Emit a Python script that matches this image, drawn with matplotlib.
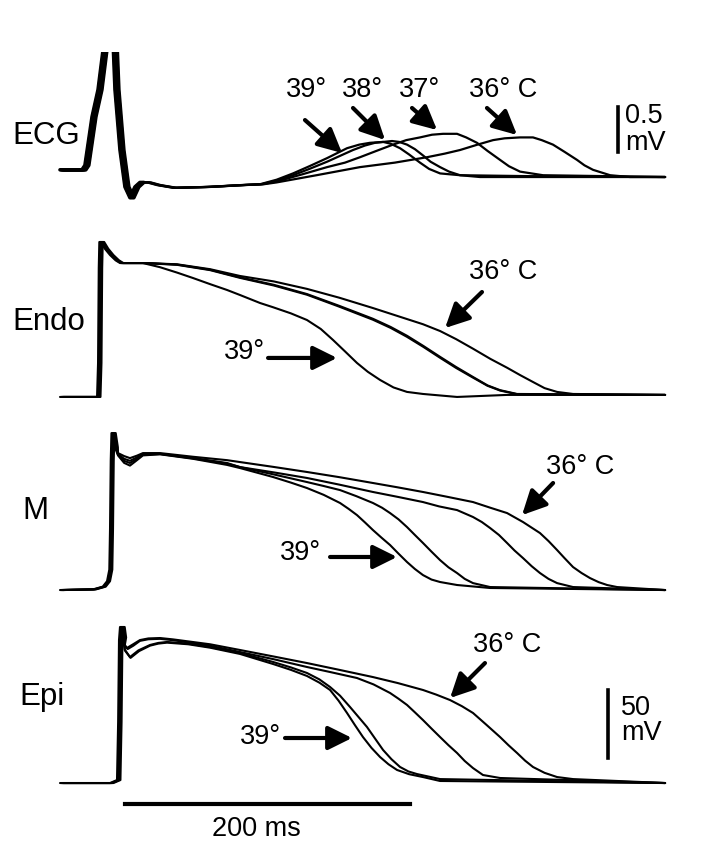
import matplotlib
matplotlib.use("Agg")
import matplotlib.pyplot as plt

plt.rcParams['font.family'] = ['Liberation Sans', 'DejaVu Sans']

# ---------------------------------------------------------------------------
# Traces: (time in ms, value). ECG in mV, APs in mV.
# ---------------------------------------------------------------------------
ecg_qrs = [(0, 0.08), (15.4, 0.08), (17.5, 0.13), (20, 0.4), (22.5, 0.67),
           (26.7, 0.97), (30.2, 1.41), (32.5, 1.95), (35.5, 1.95),
           (37.2, 1.52), (38.6, 0.97), (42.1, 0.3), (45.6, -0.11),
           (49.1, -0.23), (52.6, -0.11), (56.1, -0.06), (61.1, -0.06),
           (68.1, -0.09), (79.3, -0.12), (103.2, -0.11), (126.3, -0.09),
           (140.4, -0.08)]
ecg_39 = [(152, -0.03), (163.5, 0.04), (175, 0.12), (187.4, 0.21),
          (201.4, 0.32), (210, 0.36), (217.5, 0.38), (226.7, 0.39),
          (232, 0.37), (238.6, 0.32), (245, 0.25), (252.6, 0.16),
          (259, 0.09), (266.7, 0.04), (280.7, 0.02), (327.7, 0.01),
          (424.6, 0.0)]
ecg_38 = [(152, -0.04), (163.5, 0.02), (175, 0.09), (187.4, 0.17),
          (205.6, 0.3), (214, 0.35), (221, 0.38), (233, 0.4), (238, 0.39),
          (243.5, 0.36), (249, 0.31), (254.7, 0.24), (260, 0.17),
          (266.7, 0.11), (273, 0.06), (280.7, 0.02), (294.7, 0.0),
          (424.6, 0.0)]
ecg_37 = [(152, -0.05), (170, 0.03), (187.4, 0.11), (200, 0.16),
          (210.5, 0.22), (222, 0.29), (233.7, 0.36), (243, 0.41),
          (252.6, 0.44), (261, 0.47), (268.8, 0.48), (278.6, 0.48),
          (285, 0.44), (292.6, 0.38), (300, 0.29), (308.8, 0.19),
          (315, 0.12), (322.8, 0.06), (338.9, 0.02), (424.6, 0.0)]
ecg_36 = [(152, -0.06), (180, 0.02), (210.5, 0.11), (235, 0.16),
          (257.5, 0.22), (270, 0.26), (280.7, 0.3), (293, 0.36),
          (303.9, 0.41), (312, 0.43), (322.8, 0.44), (331.9, 0.44),
          (338, 0.41), (345.9, 0.36), (354, 0.28), (362.8, 0.19),
          (368, 0.13), (374, 0.08), (386, 0.02), (400, 0.0), (424.6, 0.0)]

endo_head = [(0, -85), (26.0, -85), (26.7, -60), (27.2, 10), (27.6, 29),
             (28.6, 29), (31.5, 24), (35.1, 19.4), (39, 15.5), (42.1, 13.5),
             (58.2, 13.5)]
endo_36 = [(82.1, 12.6), (105.3, 9.0), (126.3, 4.0), (150, 0.0),
           (173.3, -5.5), (196, -12), (219.6, -19.6), (237, -25.5),
           (254.7, -31.5), (266.7, -36.5), (278, -42.5), (289.8, -49.5),
           (302, -57), (313.7, -63.5), (323, -69), (331.9, -74),
           (340, -78.5), (348.8, -81.3), (360, -82.8), (424.6, -83.5)]
endo_37 = [(82.1, 12.4), (105.3, 8.6), (126.3, 3.0), (150, -2.5),
           (173.3, -9.3), (196, -18.0), (219.6, -27.5), (232, -33.5),
           (243.5, -40.0), (255, -47.5), (266.7, -55.5), (278, -63),
           (289.8, -70.3), (300, -76.5), (308.8, -80.0), (320.7, -82.8),
           (424.6, -83.5)]
endo_38 = [(82.1, 12.2), (105.3, 8.3), (126.3, 2.6), (150, -3.0),
           (173.3, -9.8), (196, -18.6), (219.6, -28.2), (232, -34.2),
           (243.5, -40.8), (255, -48.2), (266.7, -56.2), (278, -63.7),
           (289.8, -70.8), (300, -76.8), (308.8, -80.3), (320.7, -83.0),
           (424.6, -83.5)]
endo_39 = [(70, 10.5), (82.1, 6.5), (93.3, 2.5), (105.3, -2.0),
           (117.2, -6.3), (126.3, -10.0), (140.4, -15.9), (149.5, -19.0),
           (162, -23.5), (173.3, -28.4), (183, -35), (191.6, -43.1),
           (200, -51.5), (208.4, -60.0), (216, -66.5), (224.6, -72.5),
           (234, -78.0), (243.5, -81.3), (254.7, -82.8), (278.6, -85.0),
           (313.7, -83.5), (424.6, -83.5)]

m_head = [(0, -85), (23.2, -84.5), (30, -82.5), (33, -78.5), (34.6, -70),
          (35.1, -40), (35.6, 10), (36.1, 30.4), (37.0, 30.4),
          (38.5, 20)]
m_36 = [(40.7, 15.7), (45, 13.5), (49.1, 12.0), (54, 13.8), (58.2, 15.7),
        (70.2, 15.7), (93.3, 13.0), (117.2, 10.5), (126.3, 9.1),
        (150, 5.5), (173.3, 1.8), (196, -2.0), (219.6, -6.3), (237, -9.5),
        (254.7, -12.9), (272, -16.5), (289.8, -20.3), (302, -24.5),
        (313.7, -28.4), (324.9, -35.0), (336.8, -43.1), (342.8, -49),
        (348.8, -55.6), (354, -61.5), (360, -68.1), (366, -72.5),
        (371.9, -76.2), (378, -79.2), (383.9, -81.3), (390.9, -82.8),
        (424.6, -85)]
m_37 = [(40.7, 15.0), (45, 11.5), (49.1, 10.0), (54, 12.5), (58.2, 15.0),
        (70.2, 15.2), (93.3, 12.1), (117.2, 8.4), (126.3, 5.4),
        (150, 1.5), (173.3, -2.6), (196, -7.5), (219.6, -12.9),
        (237, -16.5), (254.7, -20.3), (266, -23.5), (278.6, -26.2),
        (289.8, -31.3), (296, -35), (301.8, -39.4), (308, -44.5),
        (313.7, -50.4), (319, -56), (324.9, -61.5), (331, -67.5),
        (336.8, -72.5), (342.8, -76.8), (348.8, -79.9), (360, -82.8),
        (424.6, -85)]
m_38 = [(40.7, 14.5), (45, 10.0), (49.1, 8.4), (54, 11.5), (58.2, 14.5),
        (70.2, 15.0), (93.3, 11.8), (117.2, 8.0), (126.3, 5.4),
        (150, 0.0), (173.3, -5.6), (185, -8.5), (196.5, -11.5),
        (208, -16), (219.6, -21.0), (226, -24.5), (231.6, -28.4),
        (237.5, -33), (243.5, -38.7), (249, -44.5), (254.7, -50.4),
        (260.7, -56.8), (266.7, -63.0), (272.6, -68.3), (278.6, -72.5),
        (284, -76.8), (289.8, -79.9), (301.8, -82.8), (424.6, -85)]
m_39 = [(40.7, 14.0), (45, 8.5), (49.1, 6.5), (54, 10.5), (58.2, 14.0),
        (70.2, 14.8), (93.3, 11.5), (117.2, 7.0), (126.3, 4.7),
        (149.5, -1.9), (162, -6), (173.3, -10.0), (185, -15),
        (196.5, -21.0), (202.5, -25.3), (208.4, -29.9), (214, -35.3),
        (219.6, -40.9), (225.6, -46.5), (231.6, -51.9), (237.5, -58.2),
        (243.5, -64.4), (249, -69.5), (254.7, -74.0), (260.7, -77.3),
        (266.7, -79.1), (278.6, -81.3), (301.8, -83.5), (424.6, -85)]

epi_head = [(0, -85), (35.1, -85), (40.0, -82.8), (40.8, -40), (41.4, 20.1),
            (42.1, 29.7), (43.0, 29.7), (44.0, 22)]
epi_36 = [(45.5, 16.5), (47, 14.3), (51, 16.8), (56.1, 20.1), (62, 21.3),
          (70.2, 21.6), (79.3, 20.6), (105.3, 17.0), (126.3, 12.8),
          (150, 8.0), (173.3, 3.2), (196, -1.8), (219.6, -7.1),
          (237, -11.5), (254.7, -16.6), (264, -20.0), (273.7, -24.0),
          (282, -28.5), (289.8, -33.5), (299, -42), (308.8, -51.2),
          (314.7, -57.2), (320.7, -62.9), (326.3, -68.5), (331.9, -73.2),
          (340, -77.5), (348.8, -80.6), (360, -82.1), (424.6, -85)]
epi_37 = [(45.5, 15.5), (47.5, 13.5), (51.5, 16.0), (56.1, 19.5), (62, 20.7),
          (70.2, 21.0), (79.3, 20.0), (105.3, 16.0), (126.3, 11.3),
          (150, 6.0), (173.3, 0.3), (190, -3.5), (208.4, -7.8),
          (220, -12.5), (231.6, -18.8), (237.5, -23), (243.5, -27.6),
          (249, -33), (254.7, -38.7), (260.7, -45), (266.7, -51.2),
          (272.6, -57.2), (278.6, -62.9), (284, -68.8), (289.8, -74.0),
          (296.8, -79.1), (308.8, -81.3), (424.6, -85)]
epi_38 = [(45.5, 13.0), (49.1, 7.6), (55, 12.5), (63.2, 16.5), (69, 18.0),
          (75.1, 18.7), (90, 17.5), (105.3, 15.0), (126.3, 10.6),
          (149.5, 4.0), (162, 0.0), (173.3, -4.1), (182, -8.8),
          (189.5, -14.4), (196.5, -20.8), (203.5, -29.1), (209.5, -36.5),
          (215.4, -43.8), (221, -52.2), (226.7, -60.7), (232.6, -67.5),
          (238.6, -73.2), (244.5, -76.5), (250.5, -78.4), (266.7, -82.1),
          (424.6, -85)]
epi_39 = [(45.5, 12.5), (49.5, 7.0), (55.5, 12.0), (63.2, 16.0), (69, 17.5),
          (75.1, 18.2), (90, 17.0), (105.3, 14.5), (126.3, 9.9),
          (149.5, 2.5), (162, -1.8), (173.3, -6.3), (182, -11.2),
          (189.5, -16.6), (195.5, -24.5), (201.4, -33.5), (207, -42.5),
          (212.6, -51.2), (218.6, -59.2), (224.6, -65.9), (230.5, -71.2),
          (236.5, -75.4), (245, -78.5), (254.7, -80.6), (266.7, -83.5),
          (424.6, -85)]

# labels and annotation positions (ms, value)
row_labels = ["ECG", "Endo", "M", "Epi"]
row_label_pos = [(-33.7, 0.46), (-33.7, -29.9), (-26.7, -26.9), (-28.8, -21.8)]

ecg_temp_labels = ["39°", "38°", "37°", "36° C"]
ecg_label_t = [172.6, 211.9, 252.6, 310.9]
ecg_label_v = 0.967
ecg_arrow_tail = [(171.9, 0.633), (205.6, 0.767), (247.0, 0.767), (299.6, 0.767)]
ecg_arrow_tip = [(197.9, 0.267), (228.1, 0.411), (264.6, 0.522), (320.7, 0.467)]

# (label "36° C" pos, arrow tail, arrow tip, label "39°" pos, arrow tail, arrow tip)
endo_notes = [(310.9, 6.9), (296.1, -7.8), (270.2, -34.3),
              (129.1, -51.9), (146.0, -56.3), (194.4, -56.3)]
m_notes = [(364.9, 5.4), (346.0, -6.3), (324.2, -29.9),
           (168.4, -57.8), (189.5, -60.7), (236.5, -60.7)]
epi_notes = [(313.7, 16.5), (298.2, 3.2), (273.7, -22.5),
             (140.4, -51.2), (157.9, -51.9), (204.9, -51.9)]

# scale bars
ecg_bar_t, ecg_bar_v = 391.6, (0.28, 0.78)
ap_bar_t, ap_bar_v = 384.6, (-66.6, -16.6)
time_bar_t, time_bar_v = (45.6, 245.6), -100.4
time_label_pos = (137.5, -118.8)

# ---------------------------------------------------------------------------
W, H = 712, 852
fig = plt.figure(figsize=(W / 100, H / 100), dpi=100)
XLIM = (-42.1, 457.5)
FS = 19.5


def panel(top_px, bot_px, ylim):
    ax = fig.add_axes([0, 1 - bot_px / H, 1, (bot_px - top_px) / H])
    ax.set_xlim(*XLIM)
    ax.set_ylim(*ylim)
    ax.axis("off")
    return ax


def trace(ax, *parts, lw=1.5):
    pts = [p for part in parts for p in part]
    t, v = zip(*pts)
    ax.plot(t, v, color="k", lw=lw, solid_joinstyle="round",
            solid_capstyle="round")


def arrow(ax, tail, tip):
    ax.annotate("", xy=tip, xytext=tail,
                arrowprops=dict(arrowstyle="-|>,head_length=1.45,head_width=0.72",
                                lw=3.0, color="k", shrinkA=0, shrinkB=0,
                                mutation_scale=10),
                annotation_clip=False)


def notes(ax, n):
    ax.text(*n[0], "36° C", fontsize=FS, ha="center", va="center")
    arrow(ax, n[1], n[2])
    ax.text(*n[3], "39°", fontsize=FS, ha="center", va="center")
    arrow(ax, n[4], n[5])


ax_ecg = panel(52, 215, (-0.422, 1.389))
ax_endo = panel(225, 410, (-94.6, 41.5))
ax_m = panel(415, 605, (-96.0, 43.7))
ax_epi = panel(610, 852, (-135.7, 42.2))

# ECG: four overlapping QRS complexes drawn heavy, T waves light
for i, tw in enumerate([ecg_39, ecg_38, ecg_37, ecg_36]):
    shifted = [(t + 0.9 * i, v) for t, v in ecg_qrs]
    trace(ax_ecg, shifted, tw, lw=1.6)
    trace(ax_ecg, shifted[:16], lw=2.6)
for lab, t in zip(ecg_temp_labels, ecg_label_t):
    ax_ecg.text(t, ecg_label_v, lab, fontsize=FS, ha="center", va="center")
for tail, tip in zip(ecg_arrow_tail, ecg_arrow_tip):
    arrow(ax_ecg, tail, tip)
ax_ecg.plot([ecg_bar_t] * 2, ecg_bar_v, color="k", lw=2.6, clip_on=False)
ax_ecg.text(ecg_bar_t + 5, 0.68, "0.5", fontsize=FS, ha="left", va="center")
ax_ecg.text(ecg_bar_t + 5, 0.38, "mV", fontsize=FS, ha="left", va="center")

# Endo
for i, tail in enumerate([endo_39, endo_38, endo_37, endo_36]):
    shifted = [(t + 0.8 * i, v) for t, v in endo_head]
    trace(ax_endo, shifted, tail)
notes(ax_endo, endo_notes)

# M
for i, tail in enumerate([m_39, m_38, m_37, m_36]):
    shifted = [(t + 0.7 * i, v) for t, v in m_head]
    trace(ax_m, shifted, tail)
notes(ax_m, m_notes)

# Epi
for i, tail in enumerate([epi_39, epi_38, epi_37, epi_36]):
    shifted = [(t + 0.8 * i, v) for t, v in epi_head]
    trace(ax_epi, shifted, tail)
notes(ax_epi, epi_notes)
ax_epi.plot([ap_bar_t] * 2, ap_bar_v, color="k", lw=2.6)
ax_epi.text(ap_bar_t + 9, -29.9, "50", fontsize=FS, ha="left", va="center")
ax_epi.text(ap_bar_t + 9, -48.2, "mV", fontsize=FS, ha="left", va="center")
ax_epi.plot(time_bar_t, [time_bar_v] * 2, color="k", lw=3.0)
ax_epi.text(*time_label_pos, "200 ms", fontsize=FS, ha="center", va="center")

for ax, lab, (t, v) in zip([ax_ecg, ax_endo, ax_m, ax_epi], row_labels,
                           row_label_pos):
    ax.text(t, v, lab, fontsize=22.5, ha="left", va="center")

fig.savefig("out.png", dpi=100)
